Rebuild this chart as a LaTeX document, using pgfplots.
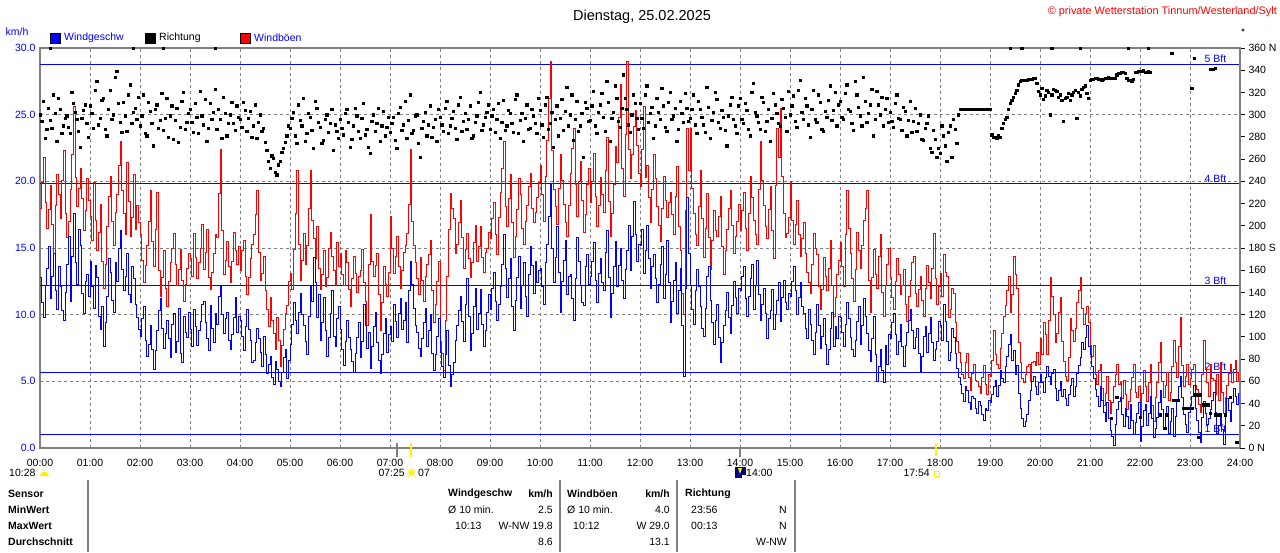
\documentclass[border=0pt]{standalone}
\usepackage{pgfplots}
\pgfplotsset{compat=1.18}
\usepackage{pgfplotstable}
\usepackage{fontspec}
\setmainfont{Liberation Sans}
\definecolor{fgray}{RGB}{128,128,128}
\definecolor{wblue}{RGB}{0,0,255}
\definecolor{wred}{RGB}{255,0,0}
\definecolor{navy}{RGB}{0,0,128}
\definecolor{sunyellow}{RGB}{255,240,0}
\newcommand{\tf}{\fontsize{10.5}{12}\selectfont}

% wind speed (km/h), 2-minute steps from 00:00, one hour per line
\pgfplotstableread[row sep=\\]{
v\\
12.8\\ 10.9\\ 9.8\\ 12.2\\ 13.5\\ 15.1\\ 11.2\\ 12.9\\ 14.6\\ 11.8\\ 10.4\\ 13.6\\ 12.1\\ 10.3\\ 9.6\\ 11.7\\ 13.8\\ 15.9\\ 11.0\\ 14.4\\ 17.6\\ 13.9\\ 12.3\\ 16.4\\ 15.2\\ 11.6\\ 10.1\\ 12.5\\ 13.0\\ 11.4\\
14.0\\ 12.1\\ 10.5\\ 13.7\\ 12.8\\ 9.9\\ 8.9\\ 10.6\\ 7.6\\ 9.4\\ 11.4\\ 14.2\\ 13.2\\ 11.1\\ 10.2\\ 13.9\\ 12.5\\ 15.0\\ 16.3\\ 13.4\\ 11.8\\ 12.9\\ 14.6\\ 11.5\\ 10.9\\ 13.6\\ 12.7\\ 10.8\\ 9.8\\ 8.9\\
8.4\\ 9.7\\ 10.6\\ 8.1\\ 6.9\\ 7.8\\ 9.2\\ 7.4\\ 5.9\\ 7.3\\ 8.8\\ 10.3\\ 11.2\\ 9.0\\ 7.5\\ 8.6\\ 9.6\\ 8.2\\ 6.8\\ 9.3\\ 10.1\\ 7.2\\ 8.0\\ 10.5\\ 7.1\\ 6.4\\ 9.9\\ 8.7\\ 8.3\\ 10.2\\
8.9\\ 7.6\\ 10.4\\ 9.1\\ 7.7\\ 8.8\\ 9.5\\ 10.8\\ 11.0\\ 9.4\\ 8.2\\ 7.3\\ 10.7\\ 9.0\\ 7.9\\ 10.1\\ 9.3\\ 11.4\\ 12.1\\ 10.0\\ 8.6\\ 9.7\\ 10.2\\ 8.1\\ 7.4\\ 8.5\\ 9.8\\ 11.3\\ 8.7\\ 9.9\\
9.6\\ 8.4\\ 7.3\\ 9.1\\ 10.4\\ 8.9\\ 8.1\\ 6.4\\ 6.6\\ 7.9\\ 9.0\\ 8.2\\ 7.2\\ 6.1\\ 8.4\\ 7.0\\ 5.6\\ 6.3\\ 6.9\\ 5.3\\ 4.8\\ 6.5\\ 5.9\\ 5.0\\ 4.6\\ 5.7\\ 6.8\\ 7.4\\ 5.2\\ 6.6\\
7.8\\ 9.3\\ 10.9\\ 9.6\\ 8.6\\ 10.2\\ 11.6\\ 10.0\\ 9.2\\ 8.0\\ 7.0\\ 9.9\\ 12.2\\ 11.0\\ 14.3\\ 12.4\\ 9.8\\ 11.5\\ 8.1\\ 9.4\\ 11.3\\ 8.8\\ 6.9\\ 8.3\\ 10.1\\ 11.8\\ 8.4\\ 7.6\\ 9.7\\ 10.6\\
8.9\\ 7.4\\ 6.2\\ 8.0\\ 9.6\\ 8.3\\ 7.4\\ 6.5\\ 5.7\\ 7.1\\ 8.3\\ 9.4\\ 6.8\\ 8.0\\ 10.8\\ 9.2\\ 7.5\\ 8.7\\ 6.0\\ 7.6\\ 9.1\\ 10.2\\ 7.9\\ 6.6\\ 5.6\\ 7.0\\ 8.6\\ 9.7\\ 7.2\\ 8.5\\
9.1\\ 8.0\\ 10.8\\ 9.5\\ 8.3\\ 10.1\\ 11.2\\ 8.9\\ 9.6\\ 10.9\\ 7.9\\ 11.8\\ 14.0\\ 12.3\\ 10.5\\ 9.2\\ 8.7\\ 7.5\\ 6.9\\ 8.2\\ 9.4\\ 10.5\\ 7.6\\ 8.8\\ 10.0\\ 7.1\\ 5.8\\ 7.0\\ 8.4\\ 9.7\\
7.2\\ 6.1\\ 5.3\\ 7.0\\ 8.8\\ 6.2\\ 4.6\\ 5.5\\ 6.4\\ 8.1\\ 9.2\\ 10.3\\ 11.4\\ 9.5\\ 8.0\\ 10.8\\ 12.7\\ 9.9\\ 7.3\\ 8.6\\ 10.6\\ 12.0\\ 8.9\\ 10.1\\ 11.9\\ 9.3\\ 7.6\\ 8.8\\ 10.2\\ 11.5\\
10.4\\ 12.0\\ 13.2\\ 11.0\\ 9.6\\ 10.8\\ 12.1\\ 13.8\\ 16.0\\ 13.5\\ 11.3\\ 12.7\\ 14.2\\ 10.6\\ 8.8\\ 11.1\\ 12.8\\ 14.4\\ 10.5\\ 12.2\\ 13.9\\ 11.4\\ 9.9\\ 13.0\\ 15.1\\ 13.7\\ 11.6\\ 14.0\\ 12.4\\ 13.3\\
13.5\\ 12.1\\ 10.8\\ 13.9\\ 15.3\\ 17.4\\ 19.8\\ 15.0\\ 12.4\\ 14.3\\ 16.6\\ 13.2\\ 10.2\\ 12.5\\ 14.1\\ 15.6\\ 11.5\\ 12.9\\ 13.0\\ 11.2\\ 9.6\\ 12.7\\ 15.8\\ 14.0\\ 12.2\\ 10.9\\ 10.7\\ 13.6\\ 14.5\\ 12.3\\
12.9\\ 14.0\\ 15.4\\ 12.6\\ 10.9\\ 13.1\\ 14.2\\ 12.4\\ 11.8\\ 14.7\\ 16.3\\ 12.8\\ 9.8\\ 11.6\\ 13.6\\ 15.5\\ 12.1\\ 13.7\\ 15.0\\ 12.6\\ 11.2\\ 13.4\\ 14.8\\ 16.7\\ 13.3\\ 15.9\\ 18.5\\ 16.0\\ 14.0\\ 15.3\\
15.2\\ 16.4\\ 13.1\\ 14.8\\ 16.7\\ 14.2\\ 12.0\\ 13.6\\ 14.5\\ 12.7\\ 10.9\\ 12.3\\ 13.8\\ 15.1\\ 11.2\\ 13.0\\ 15.6\\ 12.4\\ 9.4\\ 11.0\\ 12.6\\ 13.9\\ 10.1\\ 11.8\\ 13.5\\ 9.2\\ 5.4\\ 12.0\\ 18.8\\ 14.6\\
12.2\\ 10.4\\ 9.3\\ 11.8\\ 13.4\\ 12.1\\ 10.6\\ 9.0\\ 8.4\\ 10.5\\ 12.9\\ 13.6\\ 11.1\\ 9.4\\ 7.8\\ 9.6\\ 10.8\\ 8.3\\ 6.4\\ 7.9\\ 9.2\\ 10.3\\ 11.7\\ 9.8\\ 8.6\\ 10.7\\ 12.5\\ 11.3\\ 10.1\\ 12.0\\
11.8\\ 12.9\\ 13.6\\ 11.2\\ 9.9\\ 11.4\\ 12.7\\ 13.8\\ 10.4\\ 12.2\\ 14.1\\ 11.5\\ 9.6\\ 10.8\\ 12.0\\ 10.1\\ 8.2\\ 9.7\\ 10.3\\ 11.9\\ 8.9\\ 10.0\\ 11.1\\ 12.4\\ 9.5\\ 11.3\\ 12.6\\ 10.9\\ 10.4\\ 11.6\\
11.4\\ 12.5\\ 13.6\\ 11.8\\ 10.0\\ 11.3\\ 12.4\\ 10.6\\ 10.1\\ 9.0\\ 8.2\\ 10.4\\ 9.3\\ 8.1\\ 7.0\\ 8.7\\ 10.8\\ 9.2\\ 7.5\\ 8.4\\ 9.7\\ 7.8\\ 6.3\\ 7.4\\ 9.0\\ 10.2\\ 7.6\\ 9.1\\ 8.2\\ 9.9\\
9.8\\ 8.7\\ 7.6\\ 9.3\\ 10.9\\ 9.7\\ 8.3\\ 7.4\\ 6.9\\ 8.1\\ 9.5\\ 10.6\\ 7.8\\ 9.2\\ 11.2\\ 9.9\\ 8.6\\ 7.3\\ 6.5\\ 8.2\\ 9.9\\ 7.0\\ 5.0\\ 6.1\\ 7.4\\ 5.8\\ 4.9\\ 7.7\\ 6.3\\ 8.5\\
8.2\\ 9.4\\ 10.1\\ 8.5\\ 7.0\\ 8.0\\ 9.3\\ 7.6\\ 6.1\\ 7.7\\ 8.7\\ 9.6\\ 10.4\\ 8.8\\ 7.5\\ 8.3\\ 9.0\\ 7.1\\ 5.7\\ 6.9\\ 8.4\\ 9.1\\ 7.2\\ 8.6\\ 9.8\\ 7.9\\ 6.6\\ 7.4\\ 8.0\\ 9.5\\
9.2\\ 8.1\\ 10.8\\ 9.5\\ 8.0\\ 6.6\\ 7.2\\ 9.0\\ 8.3\\ 7.1\\ 6.0\\ 5.3\\ 4.8\\ 4.1\\ 3.5\\ 4.6\\ 4.3\\ 3.4\\ 2.9\\ 3.9\\ 3.7\\ 3.0\\ 2.6\\ 3.5\\ 3.2\\ 2.5\\ 2.1\\ 3.0\\ 2.8\\ 3.6\\
3.4\\ 4.0\\ 4.6\\ 5.1\\ 3.9\\ 4.7\\ 5.8\\ 5.2\\ 4.9\\ 6.1\\ 6.9\\ 7.8\\ 8.5\\ 6.6\\ 7.3\\ 5.5\\ 6.2\\ 4.1\\ 3.0\\ 2.2\\ 1.6\\ 2.0\\ 2.5\\ 3.6\\ 4.3\\ 5.0\\ 5.4\\ 4.6\\ 4.0\\ 4.9\\
5.5\\ 4.9\\ 4.2\\ 5.3\\ 6.1\\ 5.4\\ 4.8\\ 5.6\\ 5.9\\ 4.5\\ 3.6\\ 4.3\\ 5.0\\ 3.9\\ 4.4\\ 3.7\\ 3.2\\ 4.0\\ 4.7\\ 5.2\\ 3.9\\ 4.6\\ 5.6\\ 6.2\\ 6.8\\ 7.9\\ 7.4\\ 8.3\\ 9.2\\ 7.6\\
7.0\\ 6.1\\ 5.2\\ 4.4\\ 3.9\\ 3.1\\ 4.6\\ 3.6\\ 2.7\\ 2.0\\ 3.4\\ 2.2\\ 1.3\\ 0.9\\ 0.2\\ 1.8\\ 2.9\\ 3.5\\ 3.8\\ 2.5\\ 1.6\\ 3.0\\ 2.4\\ 1.5\\ 3.3\\ 2.1\\ 1.0\\ 1.9\\ 2.6\\ 3.4\\
0.5\\ 1.6\\ 2.8\\ 3.3\\ 1.7\\ 2.6\\ 3.9\\ 2.2\\ 0.8\\ 1.5\\ 2.3\\ 3.4\\ 4.3\\ 2.9\\ 1.4\\ 2.5\\ 3.1\\ 1.1\\ 2.0\\ 3.0\\ 0.9\\ 2.4\\ 3.6\\ 4.6\\ 5.4\\ 3.8\\ 2.5\\ 1.8\\ 1.2\\ 2.7\\
3.2\\ 3.9\\ 4.7\\ 3.0\\ 2.1\\ 1.2\\ 0.4\\ 2.3\\ 3.5\\ 2.6\\ 1.8\\ 2.2\\ 2.9\\ 3.6\\ 4.2\\ 2.7\\ 1.1\\ 1.7\\ 2.4\\ 1.4\\ 0.3\\ 2.5\\ 3.7\\ 2.8\\ 2.0\\ 3.4\\ 4.5\\ 3.9\\ 3.3\\ 4.1\\
5.0\\
}\windtab

% gusts (km/h), 2-minute steps from 00:00, one hour per line
\pgfplotstableread[row sep=\\]{
v\\
18.0\\ 19.9\\ 21.8\\ 18.4\\ 16.5\\ 17.9\\ 19.7\\ 16.8\\ 14.6\\ 18.2\\ 20.5\\ 19.0\\ 17.2\\ 20.1\\ 22.3\\ 17.6\\ 15.8\\ 17.0\\ 19.4\\ 22.0\\ 25.6\\ 20.3\\ 18.1\\ 19.5\\ 21.0\\ 18.7\\ 16.3\\ 17.8\\ 20.2\\ 18.6\\
17.4\\ 15.6\\ 19.9\\ 17.1\\ 14.8\\ 16.2\\ 18.3\\ 14.0\\ 12.0\\ 13.8\\ 16.6\\ 18.9\\ 20.4\\ 17.0\\ 15.2\\ 17.7\\ 19.0\\ 21.2\\ 23.0\\ 19.3\\ 17.6\\ 16.0\\ 21.4\\ 18.5\\ 15.9\\ 17.3\\ 20.5\\ 16.4\\ 18.2\\ 16.9\\
16.0\\ 14.1\\ 12.4\\ 13.7\\ 15.2\\ 17.0\\ 19.3\\ 15.5\\ 13.6\\ 16.4\\ 19.2\\ 13.3\\ 11.4\\ 12.8\\ 14.8\\ 12.0\\ 10.6\\ 12.5\\ 13.9\\ 15.0\\ 16.1\\ 13.8\\ 12.2\\ 13.4\\ 14.9\\ 12.6\\ 11.0\\ 12.3\\ 13.5\\ 14.6\\
14.2\\ 12.9\\ 16.1\\ 14.3\\ 12.7\\ 13.9\\ 15.0\\ 16.8\\ 13.4\\ 14.7\\ 16.4\\ 12.8\\ 11.9\\ 13.2\\ 14.6\\ 16.0\\ 15.8\\ 19.1\\ 22.4\\ 16.3\\ 13.0\\ 14.1\\ 15.5\\ 13.6\\ 12.4\\ 14.0\\ 16.2\\ 14.8\\ 13.8\\ 15.1\\
13.3\\ 14.8\\ 15.6\\ 12.9\\ 11.5\\ 12.8\\ 14.2\\ 15.3\\ 16.0\\ 17.5\\ 19.3\\ 14.7\\ 12.6\\ 13.1\\ 14.4\\ 11.8\\ 10.4\\ 9.1\\ 11.3\\ 9.6\\ 8.6\\ 7.4\\ 9.8\\ 8.1\\ 6.1\\ 7.7\\ 8.9\\ 10.1\\ 10.7\\ 12.5\\
13.1\\ 11.9\\ 14.9\\ 17.6\\ 20.8\\ 15.3\\ 12.6\\ 14.1\\ 16.1\\ 13.8\\ 15.2\\ 18.0\\ 20.8\\ 17.1\\ 15.7\\ 14.2\\ 16.6\\ 13.5\\ 11.9\\ 13.0\\ 14.8\\ 12.1\\ 12.8\\ 15.0\\ 16.2\\ 14.4\\ 13.3\\ 12.2\\ 15.4\\ 13.6\\
14.6\\ 13.0\\ 12.2\\ 14.8\\ 13.9\\ 11.9\\ 10.6\\ 12.7\\ 14.4\\ 13.1\\ 11.7\\ 12.9\\ 13.3\\ 14.9\\ 12.4\\ 11.0\\ 9.2\\ 13.8\\ 17.5\\ 14.0\\ 12.9\\ 13.7\\ 14.6\\ 11.5\\ 8.8\\ 10.9\\ 13.6\\ 12.3\\ 11.4\\ 13.2\\
17.4\\ 15.0\\ 13.1\\ 14.4\\ 15.9\\ 13.6\\ 12.0\\ 13.3\\ 14.7\\ 15.2\\ 16.1\\ 18.3\\ 22.4\\ 17.0\\ 15.2\\ 13.9\\ 12.7\\ 11.5\\ 14.3\\ 12.6\\ 11.0\\ 12.9\\ 13.8\\ 14.5\\ 15.6\\ 11.8\\ 9.4\\ 10.8\\ 12.5\\ 14.0\\
8.0\\ 7.1\\ 5.8\\ 9.6\\ 12.9\\ 16.4\\ 19.1\\ 18.0\\ 17.2\\ 14.6\\ 15.3\\ 16.9\\ 18.6\\ 15.8\\ 13.5\\ 14.9\\ 16.1\\ 14.2\\ 12.8\\ 13.9\\ 15.4\\ 16.7\\ 14.0\\ 15.1\\ 16.6\\ 14.3\\ 13.2\\ 14.7\\ 15.0\\ 16.2\\
15.7\\ 17.2\\ 18.4\\ 16.0\\ 14.5\\ 17.3\\ 19.2\\ 21.0\\ 23.0\\ 18.1\\ 16.6\\ 18.7\\ 20.5\\ 16.9\\ 14.3\\ 15.9\\ 17.9\\ 20.2\\ 19.0\\ 16.5\\ 15.3\\ 17.0\\ 18.2\\ 19.6\\ 20.6\\ 18.0\\ 16.9\\ 17.7\\ 18.8\\ 19.9\\
21.2\\ 19.0\\ 17.0\\ 20.4\\ 23.1\\ 26.2\\ 29.0\\ 22.3\\ 19.4\\ 18.1\\ 16.8\\ 19.5\\ 22.0\\ 20.1\\ 18.3\\ 16.9\\ 15.9\\ 18.2\\ 20.6\\ 22.5\\ 24.0\\ 19.8\\ 17.4\\ 20.0\\ 21.5\\ 18.6\\ 16.2\\ 17.5\\ 19.8\\ 21.0\\
18.4\\ 20.0\\ 22.1\\ 18.9\\ 16.6\\ 18.2\\ 20.3\\ 19.0\\ 17.7\\ 20.8\\ 23.3\\ 18.5\\ 15.9\\ 17.6\\ 19.8\\ 22.6\\ 21.4\\ 24.8\\ 27.3\\ 21.0\\ 18.9\\ 23.5\\ 29.0\\ 22.4\\ 20.2\\ 22.0\\ 24.1\\ 25.3\\ 22.7\\ 20.6\\
19.6\\ 22.4\\ 25.6\\ 20.3\\ 21.2\\ 18.8\\ 16.9\\ 19.4\\ 22.0\\ 20.2\\ 18.1\\ 16.7\\ 15.5\\ 18.0\\ 20.4\\ 18.6\\ 17.3\\ 18.4\\ 19.2\\ 17.5\\ 16.0\\ 18.9\\ 21.1\\ 16.6\\ 14.8\\ 11.6\\ 10.0\\ 17.8\\ 24.0\\ 20.8\\
24.0\\ 19.5\\ 17.6\\ 16.0\\ 15.2\\ 18.1\\ 20.8\\ 17.2\\ 14.3\\ 16.5\\ 19.1\\ 15.8\\ 13.4\\ 15.6\\ 17.8\\ 16.3\\ 15.9\\ 17.4\\ 18.9\\ 15.1\\ 13.0\\ 14.8\\ 16.4\\ 18.0\\ 19.3\\ 16.7\\ 14.6\\ 15.9\\ 17.0\\ 18.3\\
16.3\\ 17.8\\ 19.2\\ 16.5\\ 14.8\\ 17.6\\ 20.4\\ 18.8\\ 17.1\\ 16.0\\ 15.3\\ 19.4\\ 23.0\\ 20.1\\ 18.2\\ 16.6\\ 15.7\\ 17.9\\ 19.6\\ 16.3\\ 14.2\\ 19.7\\ 24.0\\ 21.8\\ 25.5\\ 20.4\\ 17.6\\ 15.8\\ 16.1\\ 17.3\\
20.0\\ 17.1\\ 15.3\\ 16.8\\ 18.6\\ 16.0\\ 14.4\\ 15.7\\ 16.9\\ 14.6\\ 13.2\\ 12.4\\ 11.6\\ 13.8\\ 16.1\\ 15.0\\ 14.5\\ 12.1\\ 10.4\\ 11.9\\ 14.3\\ 12.9\\ 11.8\\ 13.5\\ 15.6\\ 12.2\\ 9.9\\ 11.3\\ 13.0\\ 14.1\\
15.4\\ 13.6\\ 12.1\\ 16.0\\ 19.3\\ 16.5\\ 14.6\\ 12.7\\ 11.0\\ 13.4\\ 16.2\\ 14.8\\ 13.5\\ 15.2\\ 17.1\\ 18.0\\ 19.3\\ 12.6\\ 10.2\\ 12.8\\ 14.9\\ 13.0\\ 12.0\\ 14.4\\ 16.0\\ 11.7\\ 9.9\\ 12.2\\ 13.8\\ 15.0\\
12.8\\ 11.3\\ 10.4\\ 12.5\\ 14.2\\ 13.0\\ 11.5\\ 12.2\\ 13.4\\ 10.8\\ 9.5\\ 11.4\\ 12.6\\ 13.9\\ 14.4\\ 11.6\\ 10.6\\ 11.9\\ 12.9\\ 11.1\\ 9.9\\ 12.0\\ 13.7\\ 12.4\\ 11.2\\ 13.5\\ 16.1\\ 12.7\\ 10.8\\ 12.1\\
13.1\\ 11.4\\ 14.5\\ 13.2\\ 12.9\\ 9.8\\ 10.4\\ 12.0\\ 11.6\\ 9.4\\ 8.0\\ 7.2\\ 6.4\\ 5.5\\ 5.2\\ 6.4\\ 7.1\\ 5.3\\ 4.3\\ 5.6\\ 6.3\\ 5.1\\ 5.0\\ 4.6\\ 4.1\\ 5.3\\ 6.2\\ 4.8\\ 4.0\\ 5.5\\
5.4\\ 6.6\\ 8.8\\ 7.0\\ 6.3\\ 6.0\\ 7.5\\ 8.6\\ 9.9\\ 10.7\\ 11.8\\ 12.9\\ 10.2\\ 11.5\\ 14.4\\ 13.0\\ 12.0\\ 7.9\\ 6.4\\ 5.2\\ 4.9\\ 5.5\\ 6.1\\ 6.3\\ 5.0\\ 6.4\\ 6.5\\ 6.2\\ 7.2\\ 6.3\\
8.2\\ 7.0\\ 9.4\\ 8.5\\ 7.0\\ 9.6\\ 12.8\\ 11.4\\ 10.0\\ 7.9\\ 8.6\\ 10.2\\ 11.3\\ 8.0\\ 6.5\\ 5.4\\ 5.1\\ 6.8\\ 9.7\\ 8.8\\ 8.0\\ 9.0\\ 10.9\\ 11.8\\ 12.8\\ 10.5\\ 9.3\\ 10.1\\ 10.6\\ 9.4\\
7.7\\ 6.9\\ 7.7\\ 5.5\\ 4.8\\ 5.8\\ 6.3\\ 4.5\\ 3.2\\ 4.1\\ 5.4\\ 3.6\\ 2.6\\ 3.4\\ 4.6\\ 5.5\\ 6.3\\ 4.8\\ 4.9\\ 3.7\\ 5.1\\ 4.0\\ 2.9\\ 3.5\\ 4.4\\ 5.3\\ 6.3\\ 4.2\\ 3.8\\ 4.6\\
2.4\\ 4.1\\ 5.8\\ 4.6\\ 3.5\\ 4.9\\ 6.3\\ 3.2\\ 2.0\\ 3.8\\ 4.9\\ 6.4\\ 7.9\\ 5.0\\ 3.8\\ 4.7\\ 5.7\\ 3.6\\ 4.2\\ 6.1\\ 8.1\\ 6.4\\ 5.3\\ 7.6\\ 9.8\\ 6.2\\ 4.6\\ 5.4\\ 6.3\\ 4.8\\
5.2\\ 5.9\\ 6.3\\ 4.7\\ 4.4\\ 3.3\\ 2.7\\ 5.5\\ 8.1\\ 6.0\\ 4.9\\ 3.9\\ 6.3\\ 5.2\\ 5.1\\ 4.0\\ 5.5\\ 3.6\\ 6.4\\ 4.2\\ 2.6\\ 3.8\\ 4.7\\ 5.6\\ 6.3\\ 4.9\\ 5.9\\ 6.6\\ 5.0\\ 5.7\\
6.3\\
}\gusttab

% direction (degrees), 4-minute steps from 00:00 to 17:56
\pgfplotstableread[row sep=\\]{
v\\
300\\ 312\\ 287\\ 295\\ 318\\ 276\\ 305\\ 290\\ 299\\ 283\\ 310\\ 296\\ 271\\ 304\\ 292\\
308\\ 288\\ 330\\ 297\\ 315\\ 281\\ 322\\ 300\\ 339\\ 293\\ 311\\ 285\\ 327\\ 302\\ 296\\
290\\ 318\\ 281\\ 303\\ 272\\ 309\\ 295\\ 286\\ 315\\ 299\\ 278\\ 306\\ 289\\ 320\\ 293\\
305\\ 284\\ 298\\ 321\\ 291\\ 276\\ 310\\ 302\\ 287\\ 296\\ 316\\ 281\\ 300\\ 292\\ 308\\
296\\ 311\\ 285\\ 303\\ 290\\ 279\\ 300\\ 288\\ 268\\ 252\\ 261\\ 246\\ 258\\ 270\\ 281\\
288\\ 302\\ 274\\ 295\\ 315\\ 283\\ 298\\ 270\\ 306\\ 289\\ 277\\ 300\\ 292\\ 268\\ 285\\
296\\ 282\\ 305\\ 271\\ 290\\ 299\\ 279\\ 310\\ 287\\ 265\\ 300\\ 292\\ 276\\ 303\\ 289\\
284\\ 298\\ 270\\ 307\\ 291\\ 279\\ 318\\ 286\\ 300\\ 262\\ 294\\ 281\\ 308\\ 289\\ 276\\
298\\ 285\\ 312\\ 290\\ 303\\ 278\\ 316\\ 294\\ 287\\ 308\\ 281\\ 299\\ 320\\ 291\\ 302\\
287\\ 305\\ 296\\ 279\\ 313\\ 290\\ 301\\ 284\\ 318\\ 295\\ 276\\ 309\\ 288\\ 299\\ 283\\
304\\ 280\\ 316\\ 292\\ 271\\ 308\\ 297\\ 286\\ 325\\ 300\\ 277\\ 312\\ 290\\ 262\\ 306\\
295\\ 321\\ 283\\ 309\\ 298\\ 330\\ 276\\ 302\\ 315\\ 289\\ 336\\ 305\\ 284\\ 318\\ 297\\
310\\ 288\\ 326\\ 301\\ 279\\ 315\\ 296\\ 308\\ 285\\ 320\\ 299\\ 276\\ 312\\ 293\\ 306\\
297\\ 318\\ 283\\ 305\\ 291\\ 325\\ 279\\ 302\\ 314\\ 288\\ 298\\ 272\\ 309\\ 296\\ 283\\
315\\ 292\\ 304\\ 281\\ 328\\ 299\\ 287\\ 311\\ 294\\ 276\\ 319\\ 301\\ 290\\ 306\\ 285\\
300\\ 317\\ 289\\ 331\\ 296\\ 308\\ 280\\ 322\\ 293\\ 311\\ 285\\ 298\\ 326\\ 304\\ 290\\
312\\ 296\\ 327\\ 303\\ 286\\ 318\\ 299\\ 334\\ 293\\ 309\\ 281\\ 321\\ 300\\ 290\\ 315\\
302\\ 289\\ 318\\ 296\\ 307\\ 281\\ 312\\ 294\\ 285\\ 300\\ 277\\ 292\\ 270\\ 286\\ 262\\
}\dirtab

% direction (degrees), 4-minute steps from 00:02 to 17:58
\pgfplotstableread[row sep=\\]{
v\\
294\\ 279\\ 306\\ 288\\ 301\\ 315\\ 283\\ 297\\ 289\\ 320\\ 302\\ 285\\ 297\\ 309\\ 280\\
301\\ 322\\ 291\\ 313\\ 287\\ 305\\ 296\\ 334\\ 310\\ 284\\ 299\\ 318\\ 292\\ 306\\ 316\\
299\\ 283\\ 311\\ 292\\ 305\\ 288\\ 319\\ 297\\ 280\\ 308\\ 295\\ 275\\ 312\\ 287\\ 301\\
293\\ 310\\ 283\\ 299\\ 314\\ 288\\ 296\\ 323\\ 305\\ 279\\ 301\\ 292\\ 311\\ 286\\ 298\\
289\\ 304\\ 297\\ 280\\ 309\\ 293\\ 285\\ 275\\ 258\\ 263\\ 248\\ 255\\ 266\\ 275\\ 290\\
297\\ 281\\ 309\\ 290\\ 276\\ 301\\ 286\\ 312\\ 293\\ 274\\ 296\\ 284\\ 305\\ 291\\ 279\\
288\\ 301\\ 293\\ 278\\ 306\\ 285\\ 297\\ 282\\ 271\\ 294\\ 285\\ 306\\ 290\\ 281\\ 298\\
292\\ 277\\ 301\\ 286\\ 312\\ 295\\ 283\\ 299\\ 274\\ 288\\ 302\\ 291\\ 280\\ 296\\ 305\\
291\\ 306\\ 283\\ 297\\ 288\\ 309\\ 285\\ 301\\ 296\\ 279\\ 293\\ 311\\ 286\\ 298\\ 309\\
299\\ 284\\ 310\\ 293\\ 286\\ 304\\ 292\\ 314\\ 283\\ 301\\ 297\\ 287\\ 305\\ 292\\ 315\\
291\\ 309\\ 287\\ 302\\ 296\\ 281\\ 314\\ 303\\ 290\\ 318\\ 296\\ 285\\ 301\\ 311\\ 294\\
308\\ 290\\ 302\\ 319\\ 285\\ 311\\ 297\\ 326\\ 294\\ 306\\ 315\\ 291\\ 300\\ 310\\ 287\\
297\\ 318\\ 293\\ 307\\ 290\\ 302\\ 324\\ 289\\ 311\\ 296\\ 306\\ 287\\ 301\\ 319\\ 294\\
305\\ 291\\ 312\\ 298\\ 284\\ 307\\ 295\\ 320\\ 293\\ 304\\ 286\\ 299\\ 316\\ 290\\ 308\\
296\\ 310\\ 287\\ 320\\ 302\\ 293\\ 316\\ 285\\ 305\\ 297\\ 309\\ 292\\ 314\\ 298\\ 321\\
308\\ 294\\ 322\\ 302\\ 315\\ 291\\ 305\\ 296\\ 318\\ 287\\ 303\\ 313\\ 295\\ 320\\ 309\\
298\\ 319\\ 305\\ 292\\ 330\\ 307\\ 290\\ 312\\ 301\\ 323\\ 296\\ 309\\ 316\\ 305\\ 293\\
294\\ 310\\ 297\\ 286\\ 303\\ 295\\ 284\\ 306\\ 292\\ 278\\ 288\\ 299\\ 266\\ 278\\ 270\\
}\dirtabb

\begin{document}
\begin{tikzpicture}[x=1pt,y=1pt]

\begin{axis}[
  at={(40pt,104pt)}, anchor=origin,
  scale only axis, width=1200pt, height=400pt,
  xmin=0, xmax=1440, ymin=0, ymax=30,
  axis line style={fgray, line width=2.5pt},
  xtick={0,60,...,1440},
  xticklabels={00:00,01:00,02:00,03:00,04:00,05:00,06:00,07:00,08:00,09:00,10:00,11:00,12:00,13:00,14:00,15:00,16:00,17:00,18:00,19:00,20:00,21:00,22:00,23:00,24:00},
  ytick={0,5,...,30},
  yticklabels={0.0,5.0,10.0,15.0,20.0,25.0,30.0},
  major tick length=0pt,
  grid=major,
  major grid style={fgray, dash pattern=on 3pt off 3pt, line width=0.8pt},
  yticklabel style={text=wblue, font=\tf, xshift=-1pt},
  xticklabel style={text=black, font=\tf, yshift=-8pt},
]
% Beaufort limits
\addplot[wblue, line width=0.9pt, forget plot] coordinates {(0,28.8) (1440,28.8)};
\addplot[wblue, line width=0.9pt, forget plot] coordinates {(0,19.85) (1440,19.85)};
\addplot[wblue, line width=0.9pt, forget plot] coordinates {(0,12.2) (1440,12.2)};
\addplot[wblue, line width=0.9pt, forget plot] coordinates {(0,5.7) (1440,5.7)};
\addplot[wblue, line width=0.9pt, forget plot] coordinates {(0,1.05) (1440,1.05)};
\node[anchor=south east, text=wblue, font=\tf, inner sep=1pt] at (axis cs:1425,28.8) {5 Bft};
\node[anchor=south east, text=wblue, font=\tf, inner sep=1pt] at (axis cs:1425,19.85) {4 Bft};
\node[anchor=south east, text=wblue, font=\tf, inner sep=1pt] at (axis cs:1425,12.2) {3 Bft};
\node[anchor=south east, text=wblue, font=\tf, inner sep=1pt] at (axis cs:1425,5.7) {2 Bft};
\node[anchor=south east, text=wblue, font=\tf, inner sep=1pt] at (axis cs:1425,1.05) {1 Bft};
% gusts and wind
\addplot[wred, line width=0.8pt, const plot, mark=none] table[x expr=\coordindex*2, y=v] {\gusttab};
\addplot[wblue, line width=0.8pt, const plot, mark=none] table[x expr=\coordindex*2, y=v] {\windtab};
\end{axis}

\begin{axis}[
  at={(40pt,104pt)}, anchor=origin,
  scale only axis, width=1200pt, height=400pt,
  xmin=0, xmax=1440, ymin=0, ymax=360,
  hide x axis,
  axis y line*=right,
  axis line style={fgray, line width=2.5pt},
  ytick={0,20,...,360},
  yticklabels={0 N,20,40,60,80,100,120,140,160,180 S,200,220,240,260,280,300,320,340,360 N},
  tick align=outside, major tick length=5pt,
  major tick style={black, line width=0.8pt},
  yticklabel style={text=black, font=\tf, anchor=west},
]
\addplot[only marks, mark=square*, mark size=1.1pt, black] table[x expr=\coordindex*4, y=v] {\dirtab};
\addplot[only marks, mark=square*, mark size=1.1pt, black] table[x expr=\coordindex*4+2, y=v] {\dirtabb};
\addplot[only marks, mark=square*, mark size=1.1pt, black] coordinates {
(1080,265)(1082,290)(1084,281)(1086,272)(1088,258)(1090,284)(1092,290)(1094,262)(1096,296)(1098,287)(1100,274)(1102,300)
(1104,305)(1106,305)(1108,305)(1110,305)(1112,305)(1114,305)(1116,305)(1118,305)(1120,305)(1122,305)(1124,305)(1126,305)(1128,305)(1130,305)(1132,305)(1134,305)(1136,305)(1138,305)(1140,305)
(1142,282)(1144,280)(1146,280)(1148,279)(1150,281)(1152,280)(1154,288)(1156,292)(1158,296)(1160,298)(1162,305)(1164,310)(1166,313)(1168,316)(1170,319)(1172,322)(1174,327)(1176,330)(1178,331)(1180,331)(1182,331)(1184,331)(1186,332)(1188,332)(1190,332)(1192,333)(1194,333)(1196,328)(1198,321)
(1200,318)(1202,324)(1204,314)(1206,317)(1208,322)(1210,320)(1212,300)(1214,318)(1216,323)(1218,322)(1220,321)(1222,316)(1224,318)(1226,313)(1228,294)(1230,315)(1232,316)(1234,319)(1236,313)(1238,318)(1240,320)(1242,322)(1244,297)(1246,320)(1248,317)(1250,323)(1252,325)(1254,326)(1256,319)(1258,315)
(1260,331)(1262,332)(1264,332)(1266,333)(1268,333)(1270,332)(1272,332)(1274,331)(1276,332)(1278,333)(1280,333)(1282,334)(1284,333)(1286,333)(1288,333)(1290,333)(1292,336)(1294,337)(1296,337)(1298,338)(1300,338)(1302,337)(1304,333)(1306,331)(1308,331)(1310,330)(1312,332)(1314,338)(1316,338)(1318,339)(1320,339)(1322,339)(1324,340)(1326,338)(1328,338)(1330,339)(1332,338)
(1358,355)(1382,324)(1385,351)(1404,341)(1406,341)(1408,341)(1410,342)
(1285,27)(1292,46)(1320,28)(1344,30)(1350,18)(1352,30)(1360,43)(1362,43)(1366,43)(1372,36)(1376,36)(1378,36)(1382,36)(1386,48)(1390,48)(1392,48)(1396,39)(1400,39)(1402,39)(1404,31)(1410,30)(1414,30)(1416,30)(1422,30)(1428,46)(1436,5)(1390,10)
(12,360)(112,360)(148,360)(210,360)(1164,360)(1178,360)(1214,360)(1248,360)(1306,360)(1330,360)
};
\end{axis}

% sunrise / sunset markers on the time axis
\draw[fgray, line width=2.5pt] (397,95) -- (397,109);
\draw[sunyellow, line width=2.5pt] (411,95) -- (411,109);
\draw[fgray, line width=2.5pt] (740,95) -- (740,105);
\draw[sunyellow, line width=2.5pt] (936,96) -- (936,109);

% annotations under the time axis
\node[anchor=west, font=\tf, inner sep=0pt] at (9,79) {10:28};
\fill[sunyellow] (40,76) arc[start angle=180, end angle=0, radius=4.5] -- cycle;
\node[anchor=east, font=\tf, inner sep=0pt] at (405,79) {07:25};
\fill[sunyellow] (411.5,79) circle (3);
\foreach \a in {0,45,...,315} \draw[sunyellow, line width=0.8pt] (411.5,79) ++(\a:3.5) -- ++(\a:1.8);
\node[anchor=west, font=\tf, inner sep=0pt] at (418,79) {07};
\fill[navy] (735,74) rectangle (746,85);
\fill[sunyellow] (738,84) -- (742,84) -- (740,78) -- cycle;
\fill[white] (742,74) rectangle (746,77);
\node[anchor=west, font=\tf, inner sep=0pt] at (746,79) {14:00};
\node[anchor=east, font=\tf, inner sep=0pt] at (930,79) {17:54};
\draw[sunyellow, line width=0.8pt] (934,76) rectangle (939,81);

% header
\node[font=\fontsize{14.5}{16}\selectfont] at (642,535) {Dienstag, 25.02.2025};
\node[anchor=east, text=wred, font=\fontsize{10.9}{12}\selectfont, inner sep=0pt] at (1277,540) {© private Wetterstation Tinnum/Westerland/Sylt};
\draw[black, line width=0.5pt] (1243,522) circle (1.2);
\node[text=wblue, font=\tf] at (17,520) {km/h};
% legend
\filldraw[fill=wblue, draw=black, line width=0.5pt] (50,509) rectangle (60,519);
\node[anchor=west, text=wblue, font=\tf, inner sep=0pt] at (64,514) {Windgeschw};
\filldraw[fill=black, draw=black, line width=0.5pt] (145,509) rectangle (155,519);
\node[anchor=west, text=black, font=\tf, inner sep=0pt] at (159,514) {Richtung};
\filldraw[fill=wred, draw=black, line width=0.5pt] (240,509) rectangle (250,519);
\node[anchor=west, text=wblue, font=\tf, inner sep=0pt] at (254,514) {Windböen};

% statistics table
\foreach \x in {88,560,677,795} \draw[fgray, line width=2pt] (\x,72) -- (\x,0);
\begin{scope}[every node/.style={font=\tf, inner sep=0pt}]
\node[anchor=west, font=\tf\bfseries] at (8,58) {Sensor};
\node[anchor=west, font=\tf\bfseries] at (8,42) {MinWert};
\node[anchor=west, font=\tf\bfseries] at (8,26) {MaxWert};
\node[anchor=west, font=\tf\bfseries] at (8,10) {Durchschnitt};
\node[anchor=west, font=\tf\bfseries] at (448,58) {Windgeschw};
\node[anchor=east, font=\tf\bfseries] at (553,58) {km/h};
\node[anchor=west] at (448,42) {Ø 10 min.};
\node[anchor=east] at (553,42) {2.5};
\node[anchor=west] at (455,26) {10:13};
\node[anchor=east] at (553,26) {W-NW 19.8};
\node[anchor=east] at (553,10) {8.6};
\node[anchor=west, font=\tf\bfseries] at (567,58) {Windböen};
\node[anchor=east, font=\tf\bfseries] at (670,58) {km/h};
\node[anchor=west] at (567,42) {Ø 10 min.};
\node[anchor=east] at (670,42) {4.0};
\node[anchor=west] at (573,26) {10:12};
\node[anchor=east] at (670,26) {W 29.0};
\node[anchor=east] at (670,10) {13.1};
\node[anchor=west, font=\tf\bfseries] at (685,58) {Richtung};
\node[anchor=west] at (691,42) {23:56};
\node[anchor=east] at (787,42) {N};
\node[anchor=west] at (691,26) {00:13};
\node[anchor=east] at (787,26) {N};
\node[anchor=east] at (787,10) {W-NW};
\end{scope}

\pgfresetboundingbox
\path[use as bounding box] (0,0) rectangle (1280,552);
\end{tikzpicture}
\end{document}
